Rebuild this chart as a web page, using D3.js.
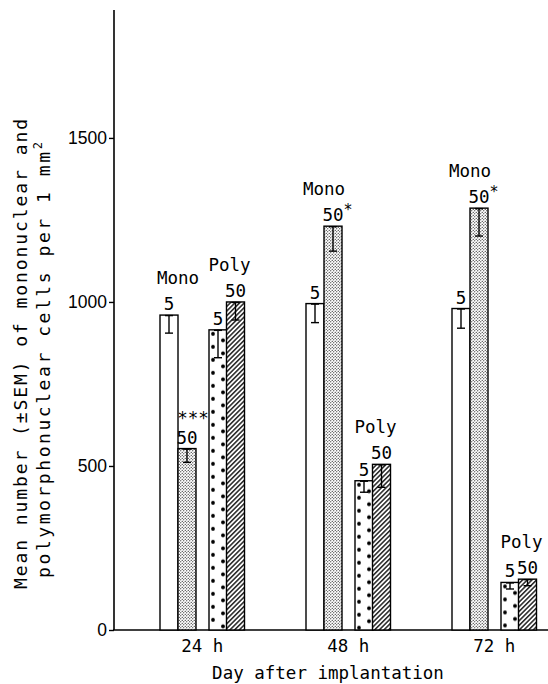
<!DOCTYPE html>
<html><head><meta charset="utf-8">
<script src="https://cdn.jsdelivr.net/npm/d3@7"></script>
<style>html,body{margin:0;padding:0;background:#fff;}svg{display:block;}</style>
</head><body>
<script>
// ---- data ----
const groups = ["24 h", "48 h", "72 h"];
const monoDose5 = [960, 995, 980];
const monoDose50 = [553, 1231, 1286];
const polyDose5 = [915, 455, 145];
const polyDose50 = [1000, 505, 155];
const monoDose5Sem = [55, 58, 60];
const monoDose50Sem = [42, 76, 85];
const polyDose5Sem = [85, 35, 20];
const polyDose50Sem = [55, 70, 20];
const doseLabels = ["5", "50", "5", "50"];
const signif = ["***", "*", "*"];
const yTicks = [0, 500, 1000, 1500];
const xTitle = "Day after implantation";
const yTitle1 = "Mean number (\u00b1SEM) of mononuclear and";
const yTitle2 = "polymorphonuclear cells per 1 mm";

const W = 548, H = 684;
const mono = "'DejaVu Sans Mono', 'Liberation Mono', monospace";
const sans = "'Liberation Sans', Arial, sans-serif";

const svg = d3.select("body").append("svg").attr("width", W).attr("height", H);
const y = d3.scaleLinear().domain([0, 1890]).range([630, 10]);
const xG = d3.scaleBand().domain(groups).range([114, 552]).padding(0);
const offsets = [46, 64, 95, 112.5];
const bw = 18;

const series = [
  {vals: monoDose5, sem: monoDose5Sem, fill: "#fff"},
  {vals: monoDose50, sem: monoDose50Sem, fill: "url(#stipple)"},
  {vals: polyDose5, sem: polyDose5Sem, fill: "dots"},
  {vals: polyDose50, sem: polyDose50Sem, fill: "url(#hatch)"}
];

const defs = svg.append("defs");
const st = defs.append("pattern").attr("id", "stipple").attr("patternUnits", "userSpaceOnUse")
  .attr("width", 3).attr("height", 3);
st.append("rect").attr("width", 3).attr("height", 3).attr("fill", "#fff");
st.append("circle").attr("cx", 0.75).attr("cy", 0.75).attr("r", 0.62).attr("fill", "#000");
st.append("circle").attr("cx", 2.25).attr("cy", 2.25).attr("r", 0.62).attr("fill", "#000");
const ht = defs.append("pattern").attr("id", "hatch").attr("patternUnits", "userSpaceOnUse")
  .attr("width", 3.3).attr("height", 3.3).attr("patternTransform", "rotate(45)");
ht.append("rect").attr("width", 3.3).attr("height", 3.3).attr("fill", "#fff");
ht.append("line").attr("x1", 0.8).attr("y1", 0).attr("x2", 0.8).attr("y2", 3.3)
  .attr("stroke", "#000").attr("stroke-width", 1.3);

// axes
svg.append("line").attr("x1", 114).attr("x2", 114).attr("y1", y.range()[1]).attr("y2", y(0))
  .attr("stroke", "#000").attr("stroke-width", 1.6);
svg.append("line").attr("x1", 113).attr("x2", W).attr("y1", y(0)).attr("y2", y(0))
  .attr("stroke", "#000").attr("stroke-width", 1.6);
const yAxis = svg.append("g").attr("transform", "translate(114,0)")
  .call(d3.axisLeft(y).tickValues(yTicks).tickSize(5).tickPadding(2).tickFormat(d3.format("d")));
yAxis.select(".domain").remove();
yAxis.selectAll("line").attr("stroke-width", 1.4);
yAxis.selectAll("text").attr("font-family", sans).attr("font-size", 17.5).attr("fill", "#000");

// bars
groups.forEach((g, gi) => {
  series.forEach((s, si) => {
    const x0 = xG(g) + offsets[si];
    const v = s.vals[gi];
    let fill = s.fill;
    if (fill === "dots") {
      const id = "dots" + gi;
      const p = defs.append("pattern").attr("id", id).attr("patternUnits", "userSpaceOnUse")
        .attr("x", x0).attr("y", y(v)).attr("width", bw).attr("height", 13);
      p.append("rect").attr("width", bw).attr("height", 13).attr("fill", "#fff");
      p.append("circle").attr("cx", 4).attr("cy", 4).attr("r", 1.9).attr("fill", "#000");
      p.append("circle").attr("cx", bw - 4).attr("cy", 10.5).attr("r", 1.9).attr("fill", "#000");
      fill = "url(#" + id + ")";
    }
    svg.append("rect").attr("x", x0).attr("y", y(v)).attr("width", bw).attr("height", y(0) - y(v))
      .attr("fill", fill).attr("stroke", "#000").attr("stroke-width", 1.4);
    // error bar (downward)
    const cx = x0 + bw / 2, yt = y(v), yb = y(v - s.sem[gi]);
    const eb = svg.append("g").attr("stroke", "#000").attr("stroke-width", 1.4);
    eb.append("line").attr("x1", cx).attr("x2", cx).attr("y1", yt).attr("y2", yb);
    eb.append("line").attr("x1", cx - 4).attr("x2", cx + 4).attr("y1", yt + 0.5).attr("y2", yt + 0.5);
    eb.append("line").attr("x1", cx - 4).attr("x2", cx + 4).attr("y1", yb).attr("y2", yb);
    // dose label
    svg.append("text").attr("x", cx).attr("y", yt - 5).attr("text-anchor", "middle")
      .attr("font-family", mono).attr("font-size", 17.5).text(doseLabels[si]);
  });
  // significance
  const sx = xG(g) + offsets[1] + bw / 2;
  const sy = y(monoDose50[gi]);
  if (gi === 0) {
    svg.append("text").attr("x", sx + 6).attr("y", sy - 25).attr("text-anchor", "middle")
      .attr("font-family", mono).attr("font-size", 17.5).text(signif[gi]);
  } else {
    svg.append("text").attr("x", sx + 15).attr("y", sy - 11).attr("text-anchor", "middle")
      .attr("font-family", mono).attr("font-size", 15).text(signif[gi]);
  }
  // group labels
  const monoTop = Math.min(y(monoDose5[gi]), y(monoDose50[gi]));
  svg.append("text").attr("x", xG(g) + offsets[0] + bw).attr("y", monoTop - 31).attr("text-anchor", "middle")
    .attr("font-family", mono).attr("font-size", 17.5).text("Mono");
  const polyTop = Math.min(y(polyDose5[gi]), y(polyDose50[gi]));
  svg.append("text").attr("x", xG(g) + offsets[3] + 3).attr("y", polyTop - 31).attr("text-anchor", "middle")
    .attr("font-family", mono).attr("font-size", 17.5).text("Poly");
  // x tick label
  svg.append("text").attr("x", xG(g) + offsets[0] + (offsets[3] + bw - offsets[0]) / 2).attr("y", 652)
    .attr("text-anchor", "middle").attr("font-family", mono).attr("font-size", 17.5).text(g);
});

// titles
svg.append("text").attr("x", 328).attr("y", 679).attr("text-anchor", "middle")
  .attr("font-family", mono).attr("font-size", 17.5).text(xTitle);
const yl = svg.append("g").attr("transform", "translate(27,354) rotate(-90)");
yl.append("text").attr("x", 0).attr("y", 0).attr("text-anchor", "middle")
  .attr("font-family", mono).attr("font-size", 18).attr("textLength", 470).attr("lengthAdjust", "spacing")
  .text(yTitle1);
const t2 = yl.append("text").attr("x", -6).attr("y", 23).attr("text-anchor", "middle")
  .attr("font-family", mono).attr("font-size", 18);
t2.append("tspan").attr("textLength", 426).attr("lengthAdjust", "spacing").text(yTitle2);
t2.append("tspan").attr("dy", -8).attr("font-size", 12).text("2");
</script>
</body></html>
